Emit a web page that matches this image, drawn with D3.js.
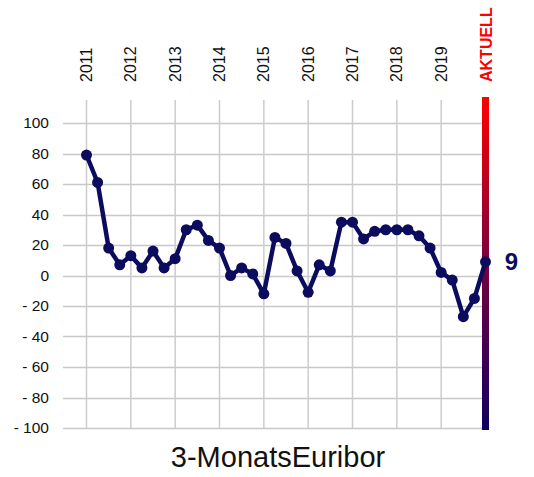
<!DOCTYPE html>
<html>
<head>
<meta charset="utf-8">
<script src="https://cdn.jsdelivr.net/npm/d3@7"></script>
<style>
  body { margin: 0; background: #fff; }
  text { font-family: "Liberation Sans", Arial, sans-serif; }
</style>
</head>
<body>
<div id="chart"></div>
<script>
// quarterly readings, last one = current value
const values = [79, 61, 18, 7, 13, 5, 16, 5, 11, 30, 33, 23, 18, 0, 5, 1, -12, 25, 21, 3, -11, 7, 3, 35, 35, 24, 29, 30, 30, 30, 26, 18, 2, -3, -27, -15, 9];
const yearLabels = ['2011', '2012', '2013', '2014', '2015', '2016', '2017', '2018', '2019'];
const currentLabel = 'AKTUELL';
const yTicks = [100, 80, 60, 40, 20, 0, -20, -40, -60, -80, -100];
const title = '3-MonatsEuribor';

const width = 534, height = 477;
const navy = '#0c0c5e';

const svg = d3.select('#chart')
    .append('svg')
    .attr('width', width)
    .attr('height', height);

const x = d3.scaleLinear().domain([0, values.length - 1]).range([86.5, 485.5]);
const y = d3.scaleLinear().domain([-100, 100]).range([428, 123]);

// horizontal grid
svg.append('g')
    .selectAll('line')
    .data(yTicks)
    .enter()
    .append('line')
    .attr('x1', 63)
    .attr('x2', 482)
    .attr('y1', d => Math.round(y(d)) + 0.5)
    .attr('y2', d => Math.round(y(d)) + 0.5)
    .attr('stroke', '#c8c8c8')
    .attr('stroke-width', 1.5);

// vertical grid at each year start
svg.append('g')
    .selectAll('line')
    .data(yearLabels)
    .enter()
    .append('line')
    .attr('x1', (d, i) => x(i * 4))
    .attr('x2', (d, i) => x(i * 4))
    .attr('y1', 100)
    .attr('y2', 428)
    .attr('stroke', '#cccccc')
    .attr('stroke-width', 1.5);

// y labels
svg.append('g')
    .selectAll('text')
    .data(yTicks)
    .enter()
    .append('text')
    .attr('x', 49)
    .attr('y', d => y(d))
    .attr('dy', '0.35em')
    .attr('text-anchor', 'end')
    .attr('font-size', 15.5)
    .attr('fill', '#111')
    .text(d => d < 0 ? '- ' + Math.abs(d) : d);

// year labels, rotated
svg.append('g')
    .selectAll('text')
    .data(yearLabels)
    .enter()
    .append('text')
    .attr('transform', (d, i) => `translate(${x(i * 4) + 5.5},82) rotate(-90)`)
    .attr('font-size', 16)
    .attr('fill', '#111')
    .text(d => d);

svg.append('text')
    .attr('transform', `translate(${x(values.length - 1) + 6},82) rotate(-90)`)
    .attr('font-size', 16)
    .attr('font-weight', 'bold')
    .attr('fill', '#ff0000')
    .text(currentLabel);

// gradient marker bar for current value
const grad = svg.append('defs')
    .append('linearGradient')
    .attr('id', 'bar-grad')
    .attr('x1', 0).attr('y1', 0).attr('x2', 0).attr('y2', 1);
grad.append('stop').attr('offset', '0%').attr('stop-color', '#ff0000');
grad.append('stop').attr('offset', '50%').attr('stop-color', '#78003e');
grad.append('stop').attr('offset', '100%').attr('stop-color', '#0e0060');

svg.append('rect')
    .attr('x', x(values.length - 1) - 3.5)
    .attr('y', 97)
    .attr('width', 7)
    .attr('height', 333)
    .attr('fill', 'url(#bar-grad)');

// line
const line = d3.line()
    .x((d, i) => x(i))
    .y(d => y(d));

svg.append('path')
    .datum(values)
    .attr('d', line)
    .attr('fill', 'none')
    .attr('stroke', navy)
    .attr('stroke-width', 4.5)
    .attr('stroke-linejoin', 'round');

svg.append('g')
    .selectAll('circle')
    .data(values)
    .enter()
    .append('circle')
    .attr('cx', (d, i) => x(i))
    .attr('cy', d => y(d))
    .attr('r', 5.5)
    .attr('fill', navy);

// current value label
svg.append('text')
    .attr('x', 511.5)
    .attr('y', y(values[values.length - 1]))
    .attr('dy', '0.35em')
    .attr('text-anchor', 'middle')
    .attr('font-size', 24)
    .attr('font-weight', 'bold')
    .attr('fill', navy)
    .text(values[values.length - 1]);

svg.append('text')
    .attr('x', 278)
    .attr('y', 467)
    .attr('text-anchor', 'middle')
    .attr('font-size', 29)
    .attr('fill', '#111')
    .text(title);
</script>
</body>
</html>
